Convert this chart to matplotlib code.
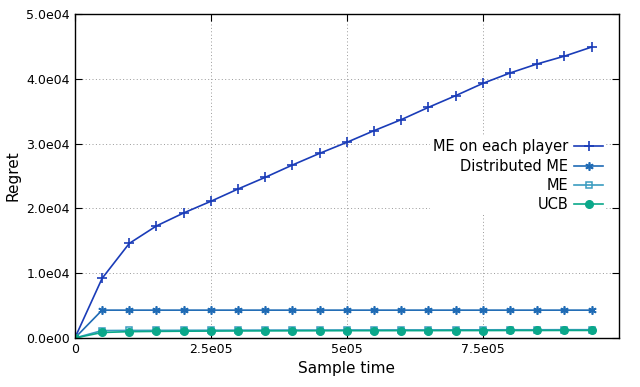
import numpy as np
import matplotlib.pyplot as plt

# sample times
t = [0, 5e4, 1e5, 1.5e5, 2e5, 2.5e5, 3e5, 3.5e5, 4e5, 4.5e5,
     5e5, 5.5e5, 6e5, 6.5e5, 7e5, 7.5e5, 8e5, 8.5e5, 9e5, 9.5e5]

# regret of each method
me_each = [0, 9200, 14600, 17300, 19300, 21100, 23000, 24800, 26700, 28500,
           30200, 32000, 33700, 35600, 37400, 39300, 40900, 42300, 43500, 44900]
dist_me = [0] + [4300] * 19
me = [0, 1150, 1170, 1180, 1190, 1200, 1210, 1220, 1230, 1230,
      1240, 1240, 1250, 1250, 1260, 1260, 1270, 1270, 1280, 1280]
ucb = [0, 850, 980, 1020, 1050, 1070, 1090, 1100, 1110, 1120,
       1130, 1130, 1140, 1140, 1150, 1150, 1160, 1160, 1170, 1170]

xticks = [0, 2.5e5, 5e5, 7.5e5]
xlabels = ["0", "2.5e05", "5e05", "7.5e05"]
yticks = [0, 1e4, 2e4, 3e4, 4e4, 5e4]
ylabels = ["0.0e00", "1.0e04", "2.0e04", "3.0e04", "4.0e04", "5.0e04"]

plt.rcParams['font.family'] = ['DejaVu Sans']

fig = plt.figure(figsize=(6.4, 3.87), dpi=100)
ax = fig.add_axes([0.117, 0.1266, 0.85, 0.8372])

ax.plot(t, me_each, color='#1a3cb8', lw=1.2, marker='+', ms=7, mew=1.2,
        label='ME on each player')
ax.plot(t, dist_me, color='#1f6bb5', lw=1.2, marker=(6, 2, 0), ms=6, mew=1.2,
        label='Distributed ME')
ax.plot(t, me, color='#3a9cc0', lw=1.2, marker='s', ms=5, mfc='none', mew=1.1,
        label='ME')
ax.plot(t, ucb, color='#0aa88a', lw=1.2, marker='o', ms=5.5,
        label='UCB')

ax.set_xlim(0, 1e6)
ax.set_ylim(0, 5e4)
ax.set_xticks(xticks)
ax.set_xticklabels(xlabels)
ax.set_yticks(yticks)
ax.set_yticklabels(ylabels)
ax.tick_params(direction='in', top=True, right=True, length=5, labelsize=9)
ax.grid(True, linestyle=(0, (1, 2.5)), color='#999999', lw=0.7)
for s in ax.spines.values():
    s.set_linewidth(1.0)

ax.set_xlabel('Sample time', fontsize=11)
ax.set_ylabel('Regret', fontsize=11)

leg = ax.legend(loc='upper right', bbox_to_anchor=(0.99, 0.645), markerfirst=False,
                frameon=True, fancybox=False, edgecolor='none', facecolor='white',
                framealpha=1, fontsize=10.5, handlelength=2.0, labelspacing=0.3,
                borderpad=0.2, handletextpad=0.4)

fig.savefig('out.png', dpi=100)
